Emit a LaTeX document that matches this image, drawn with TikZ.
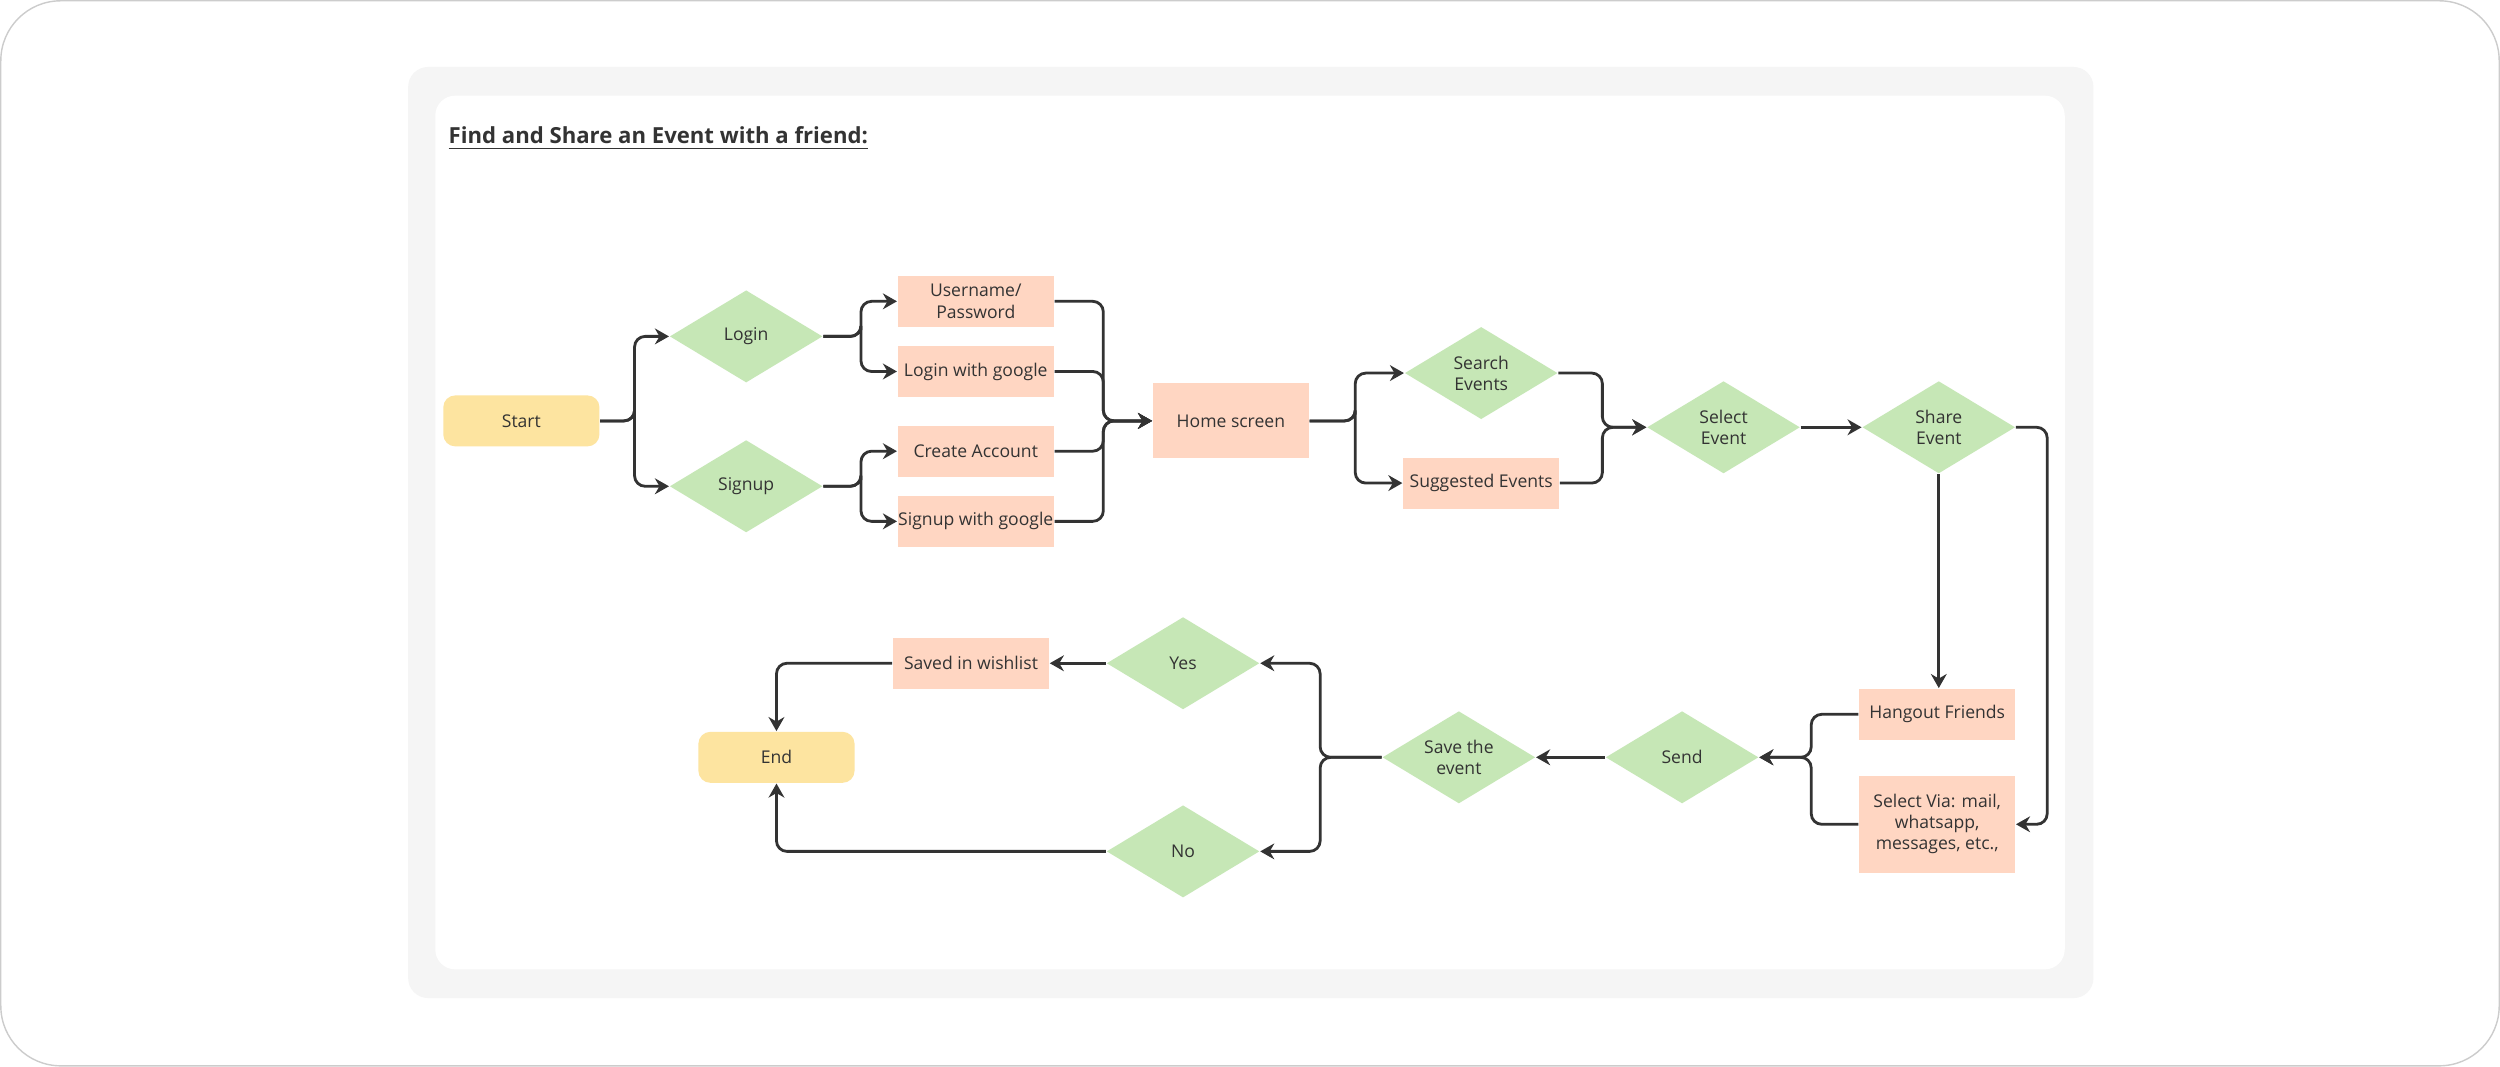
\documentclass[tikz,border=0pt]{standalone}
\usepackage{fontspec}
\setmainfont{Open Sans}
\usetikzlibrary{shapes.geometric,arrows.meta}
\definecolor{dia}{HTML}{C6E7B6}
\definecolor{box}{HTML}{FFD6C2}
\definecolor{yel}{HTML}{FDE4A0}
\definecolor{ln}{HTML}{333333}
\begin{document}
\begin{tikzpicture}[x=0.01594cm,y=-0.01594cm,
  every node/.style={font=\fontsize{5}{6}\selectfont,text=ln,align=center,inner sep=0pt},
  dm/.style={diamond,aspect=1.655,fill=dia,minimum width=1.53cm,minimum height=0.925cm},
  bx/.style={rectangle,fill=box,minimum width=1.562cm,minimum height=0.51cm},
  yb/.style={rectangle,rounded corners=1.2mm,fill=yel,minimum width=1.562cm,minimum height=0.51cm},
  ar/.style={draw=ln,line width=0.8pt,rounded corners=3pt,-{Stealth[length=4pt,width=4.5pt]}}]
\useasboundingbox (0,0) rectangle (1568,669);
\draw[draw=gray!40,line width=0.4pt,fill=white,rounded corners=6mm] (0.5,0.5) rectangle (1567.5,668.5);
\fill[black!4,rounded corners=2mm] (256,42) rectangle (1313,626);
\fill[white,rounded corners=2mm] (273,60) rectangle (1295,608);
\node[anchor=west,font=\fontsize{6.3}{7}\selectfont\bfseries] (title) at (281,87) {\underline{Find and Share an Event with a friend:}};
\node[yb] (start) at (327,264) {Start};
\node[dm] (login) at (468,211) {Login};
\node[dm] (signup) at (468,305) {Signup};
\node[bx] (user) at (612,189) {Username/\\Password};
\node[bx] (lg) at (612,233) {Login with google};
\node[bx] (ca) at (612,283) {Create Account};
\node[bx] (sg) at (612,327) {Signup with google};
\node[bx,minimum height=0.75cm] (home) at (772,264) {Home screen};
\node[dm] (search) at (929,234) {Search\\Events};
\node[bx] (sugg) at (929,303) {Suggested Events};
\node[dm] (select) at (1081,268) {Select\\Event};
\node[dm] (share) at (1216,268) {Share\\Event};
\node[bx] (hang) at (1215,448) {Hangout Friends};
\node[bx,minimum height=0.972cm] (via) at (1215,517) {Select Via: mail,\\whatsapp,\\messages, etc.,};
\node[dm] (send) at (1055,475) {Send};
\node[dm] (save) at (915,475) {Save the\\event};
\node[dm] (yes) at (742,416) {Yes};
\node[dm] (no) at (742,534) {No};
\node[bx] (wish) at (609,416) {Saved in wishlist};
\node[yb] (end) at (487,475) {End};
\coordinate (c1) at (398,0);
\coordinate (c2) at (540,0);
\coordinate (c3) at (692,0);
\coordinate (c4) at (850,0);
\coordinate (c5) at (1005,0);
\coordinate (c6) at (1284,0);
\coordinate (c7) at (1136,0);
\coordinate (c8) at (828,0);
\path[ar] (start.east) -| (c1 |- start) |- (login.west);
\path[ar] (start.east) -| (c1 |- start) |- (signup.west);
\path[ar] (login.east) -| (c2 |- login) |- (user.west);
\path[ar] (login.east) -| (c2 |- login) |- (lg.west);
\path[ar] (signup.east) -| (c2 |- signup) |- (ca.west);
\path[ar] (signup.east) -| (c2 |- signup) |- (sg.west);
\foreach \n in {user,lg,ca,sg}{\path[ar] (\n.east) -| (c3 |- home) -- (home.west);}
\path[ar] (home.east) -| (c4 |- home) |- (search.west);
\path[ar] (home.east) -| (c4 |- home) |- (sugg.west);
\path[ar] (search.east) -| (c5 |- select) -- (select.west);
\path[ar] (sugg.east) -| (c5 |- select) -- (select.west);
\path[ar] (select.east) -- (share.west);
\path[ar] (share.south) -- (share.south |- hang.north);
\path[ar] (share.east) -| (c6 |- via) -- (via.east);
\path[ar] (hang.west) -| (c7 |- send) -- (send.east);
\path[ar] (via.west) -| (c7 |- send) -- (send.east);
\path[ar] (send.west) -- (save.east);
\path[ar] (save.west) -| (c8 |- yes) -- (yes.east);
\path[ar] (save.west) -| (c8 |- no) -- (no.east);
\path[ar] (yes.west) -- (wish.east);
\path[ar] (wish.west) -| (end.north);
\path[ar] (no.west) -| (end.south);
\end{tikzpicture}
\end{document}
